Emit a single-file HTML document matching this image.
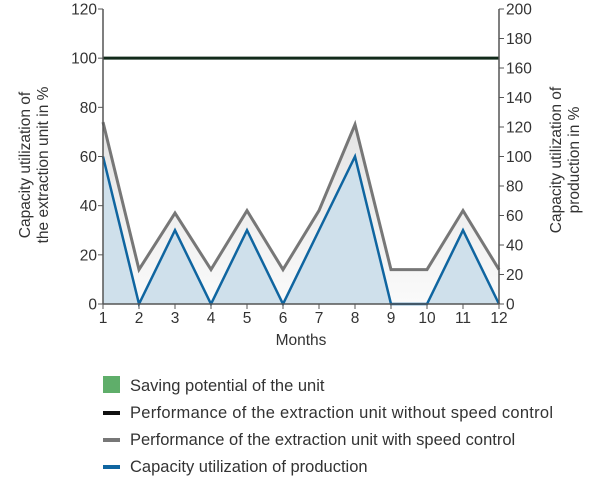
<!DOCTYPE html>
<html><head><meta charset="utf-8"><style>
body{margin:0;background:#fff;font-family:"Liberation Sans",sans-serif;}
svg text{font-family:"Liberation Sans",sans-serif;fill:#333;}
</style></head><body>
<svg id="c" width="600" height="481" viewBox="0 0 600 481">
<defs><linearGradient id="g" x1="0" y1="0" x2="0" y2="1"><stop offset="0" stop-color="#e4e4e4"/><stop offset="1" stop-color="#fafafa"/></linearGradient></defs>
<g id="plot"></g>
<text x="301" y="345" text-anchor="middle" font-size="15.5">Months</text>
<text transform="translate(30,165) rotate(-90)" text-anchor="middle" font-size="15.5">Capacity utilization of</text>
<text transform="translate(48,165) rotate(-90)" text-anchor="middle" font-size="15.5">the extraction unit in %</text>
<text transform="translate(561,160) rotate(-90)" text-anchor="middle" font-size="15.5">Capacity utilization of</text>
<text transform="translate(579,160) rotate(-90)" text-anchor="middle" font-size="15.5">production in %</text>
<g>
<rect x="103" y="376" width="17" height="17" fill="#5fae6a"/>
<text x="130" y="391" font-size="16.5">Saving potential of the unit</text>
<rect x="103" y="411" width="17" height="4" fill="#111"/>
<text x="130" y="418" font-size="16.5" textLength="423">Performance of the extraction unit without speed control</text>
<rect x="103" y="438" width="17" height="4" fill="#777"/>
<text x="130" y="445" font-size="16.5">Performance of the extraction unit with speed control</text>
<rect x="103" y="465" width="17" height="4" fill="#0f65a0"/>
<text x="130" y="472" font-size="16.5">Capacity utilization of production</text>
</g>
</svg>
<script>
const months=[1,2,3,4,5,6,7,8,9,10,11,12];
const withControl=[74,14,37,14,38,14,38,73,14,14,38,14];
const production=[60,0,30,0,30,0,30,60,0,0,30,0];
const withoutControl=[100,100,100,100,100,100,100,100,100,100,100,100];
const leftTicks=[0,20,40,60,80,100,120];
const rightTicks=[0,20,40,60,80,100,120,140,160,180,200];
const X0=103,X1=499,Y0=304,Y1=9;
const x=m=>X0+(m-1)/(12-1)*(X1-X0);
const yL=v=>Y0-v/120*(Y0-Y1);
const yR=v=>Y0-v/200*(Y0-Y1);
const NS="http://www.w3.org/2000/svg";
const p=document.getElementById('plot');
function mk(t,a){const e=document.createElementNS(NS,t);for(const k in a)e.setAttribute(k,a[k]);p.appendChild(e);return e;}
const pts=(arr)=>arr.map((v,i)=>x(months[i])+','+yL(v)).join(' ');
let e;
e=mk('polygon',{points:pts(withControl)+' '+x(12)+','+Y0+' '+x(1)+','+Y0,fill:'url(#g)'});


e=mk('polygon',{points:pts(production)+' '+x(12)+','+Y0+' '+x(1)+','+Y0,fill:'#cfe0eb'});


e=mk('polyline',{points:pts(withControl),fill:'none',stroke:'#777','stroke-width':3,'stroke-linejoin':'miter'});


e=mk('polyline',{points:pts(production),fill:'none',stroke:'#0f65a0','stroke-width':2.5});


e=mk('polyline',{points:pts(withoutControl),fill:'none',stroke:'#112a1a','stroke-width':3});


e=mk('line',{x1:X0,y1:Y1,x2:X0,y2:Y0,stroke:'#555','stroke-width':1.5});


e=mk('line',{x1:X1,y1:Y1,x2:X1,y2:Y0,stroke:'#555','stroke-width':1.5});


e=mk('line',{x1:X0,y1:Y0,x2:X1,y2:Y0,stroke:'#555','stroke-width':1.5});


leftTicks.forEach(v=>{
 e=mk('line',{x1:X0-5,y1:yL(v),x2:X0,y2:yL(v),stroke:'#555'});
 
 
 e=mk('text',{x:X0-6,y:yL(v)+5.5,'text-anchor':'end','font-size':15.5});e.textContent=v;
 
 
});
rightTicks.forEach(v=>{
 e=mk('line',{x1:X1,y1:yR(v),x2:X1+5,y2:yR(v),stroke:'#555'});
 
 
 e=mk('text',{x:X1+7,y:yR(v)+5.5,'font-size':15.5});e.textContent=v;
 
 
});
months.forEach(m=>{
 e=mk('line',{x1:x(m),y1:Y0,x2:x(m),y2:Y0+5,stroke:'#555'});
 
 
 e=mk('text',{x:x(m),y:Y0+19,'text-anchor':'middle','font-size':15.5});e.textContent=m;
 
 
});
</script>
</body></html>
